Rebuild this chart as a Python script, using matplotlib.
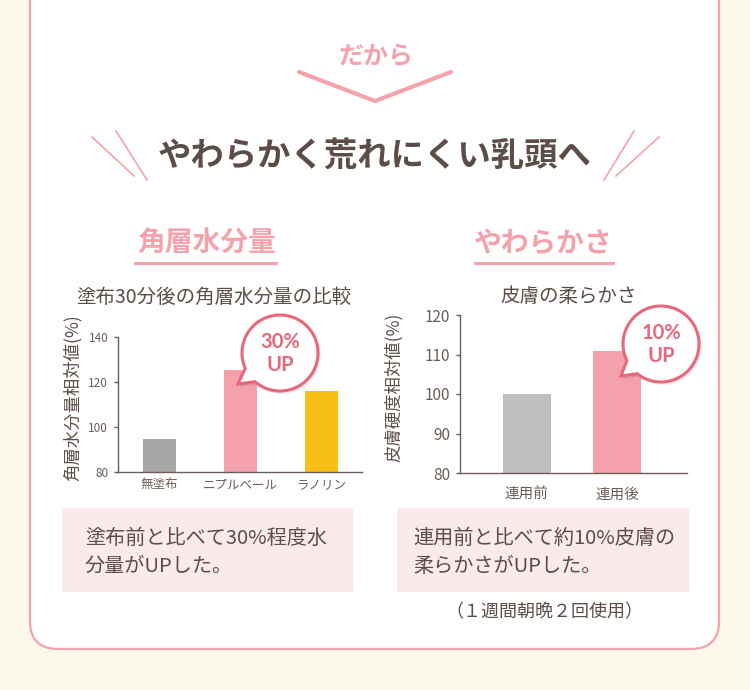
"""
やわらかく荒れにくい乳頭へ — two small comparison bar charts on a rounded card.
"""

import numpy as np
import matplotlib
matplotlib.use("Agg")
import matplotlib.pyplot as plt
from matplotlib.patches import FancyBboxPatch, Rectangle, Polygon

plt.rcParams['font.family'] = ['Noto Sans CJK JP', 'DejaVu Sans']

# ---- data -------------------------------------------------------------
left_labels = ['無塗布', 'ニプルベール', 'ラノリン']
left_values = [94.5, 125.5, 116.0]
left_colors = ['#A6A6A6', '#F5A1AB', '#F8BF14']
left_ticks = [80, 100, 120, 140]

right_labels = ['連用前', '連用後']
right_values = [100.0, 111.0]
right_colors = ['#BFBFBF', '#F5A1AB']
right_ticks = [80, 90, 100, 110, 120]

W, H = 750, 690
CREAM = '#FDF8EC'
PINK = '#F4A3AD'
BUBBLE = '#E8677D'
TEXT = '#5C4D48'
AXIS = '#6B5E58'
BOX = '#FBE9EB'


def fig_rect(x0, y0, x1, y1):
    """pixel box (top-left origin) -> figure fraction rect"""
    return [x0 / W, 1 - y1 / H, (x1 - x0) / W, (y1 - y0) / H]


fig = plt.figure(figsize=(W / 100, H / 100), dpi=100, facecolor=CREAM)

# background layer in pixel coordinates
bg = fig.add_axes([0, 0, 1, 1], zorder=0)
bg.set_xlim(0, W)
bg.set_ylim(H, 0)
bg.axis('off')

bg.add_patch(FancyBboxPatch((30, -40), 689, 689,
                            boxstyle='round,pad=0,rounding_size=28',
                            facecolor='white', edgecolor=PINK, lw=1.6))

# header
bg.text(376, 57, 'だから', color=PINK, fontsize=18, fontweight='bold',
        ha='center', va='center')
bg.plot([299, 375, 451], [72, 101, 72], color=PINK, lw=3,
        solid_capstyle='round', solid_joinstyle='miter')
bg.text(375, 157, 'やわらかく荒れにくい乳頭へ', color=TEXT, fontsize=24,
        fontweight='bold', ha='center', va='center')
for (x0, y0, x1, y1) in [(92, 137, 134, 176), (116, 131, 147, 180),
                         (634, 131, 604, 180), (659, 137, 616, 176)]:
    bg.plot([x0, x1], [y0, y1], color=PINK, lw=1.2)

# section headings
for cx, label, (u0, u1) in [(207, '角層水分量', (135, 276)),
                            (543, 'やわらかさ', (475, 613))]:
    bg.text(cx, 244, label, color=PINK, fontsize=20, fontweight='bold',
            ha='center', va='center')
    bg.plot([u0, u1], [263, 263], color=PINK, lw=2.2)

bg.text(214, 297, '塗布30分後の角層水分量の比較', color=TEXT, fontsize=14,
        ha='center', va='center')
bg.text(569, 296, '皮膚の柔らかさ', color=TEXT, fontsize=14,
        ha='center', va='center')

# explanation boxes
bg.add_patch(Rectangle((62, 508), 291, 84, facecolor=BOX, edgecolor='none'))
bg.add_patch(Rectangle((397, 508), 292, 84, facecolor=BOX, edgecolor='none'))
bg.text(85, 538, '塗布前と比べて30%程度水', color=TEXT, fontsize=14.5,
        ha='left', va='center')
bg.text(85, 566, '分量がUPした。', color=TEXT, fontsize=14.5,
        ha='left', va='center')
bg.text(413, 538, '連用前と比べて約10%皮膚の', color=TEXT, fontsize=14.5,
        ha='left', va='center')
bg.text(413, 566, '柔らかさがUPした。', color=TEXT, fontsize=14.5,
        ha='left', va='center')
bg.text(544, 612, '（１週間朝晩２回使用）', color=TEXT, fontsize=13,
        ha='center', va='center')


def style_axes(ax, ticks, tick_fs, label_fs):
    ax.set_facecolor('none')
    for s in ('top', 'right'):
        ax.spines[s].set_visible(False)
    for s in ('left', 'bottom'):
        ax.spines[s].set_color(AXIS)
        ax.spines[s].set_linewidth(1.0)
    ax.set_yticks(ticks)
    ax.tick_params(axis='y', colors=AXIS, labelsize=tick_fs, length=3,
                   width=1, pad=4)
    ax.tick_params(axis='x', colors=AXIS, labelsize=label_fs, length=0,
                   pad=5)


# left chart
axL = fig.add_axes(fig_rect(118, 337, 362, 472), zorder=2)
xl = np.arange(len(left_values))
axL.bar(xl, left_values, width=0.41, color=left_colors)
axL.set_ylim(80, 140)
axL.set_xlim(-0.51, 2.5)
axL.set_xticks(xl, left_labels)
style_axes(axL, left_ticks, 8.5, 9)
axL.set_ylabel('角層水分量相対値(%)', color=TEXT, fontsize=12.5)
axL.yaxis.set_label_coords(-0.15, 0.548)

# right chart
axR = fig.add_axes(fig_rect(460, 315, 687, 473), zorder=2)
xr = np.arange(len(right_values))
axR.bar(xr, right_values, width=0.53, color=right_colors)
axR.set_ylim(80, 120)
axR.set_xlim(-0.74, 1.77)
axR.set_xticks(xr, right_labels)
style_axes(axR, right_ticks, 11, 10.5)
axR.tick_params(axis='x', pad=11)
axR.set_ylabel('皮膚硬度相対値(%)', color=TEXT, fontsize=12.5)
axR.yaxis.set_label_coords(-0.25, 0.544)

# foreground layer for speech bubbles
fg = fig.add_axes([0, 0, 1, 1], zorder=5)
fg.set_xlim(0, W)
fg.set_ylim(H, 0)
fg.axis('off')
fg.patch.set_alpha(0)


def bubble(ax, cx, cy, r, tip, gap, text_lines):
    tip_ang = np.arctan2(tip[1] - cy, tip[0] - cx)
    t = np.linspace(tip_ang + gap, tip_ang - gap + 2 * np.pi, 120)
    pts = np.column_stack([cx + r * np.cos(t), cy + r * np.sin(t)])
    pts = np.vstack([pts, tip])
    ax.add_patch(Polygon(pts + [2.5, 3], closed=True, facecolor='#000000',
                         alpha=0.08, edgecolor='none'))
    ax.add_patch(Polygon(pts, closed=True, facecolor='white',
                         edgecolor=BUBBLE, lw=2.2, joinstyle='miter'))
    for (dy, s) in zip((-11, 12), text_lines):
        ax.text(cx, cy + dy, s, color=BUBBLE, fontsize=14.5,
                fontweight='bold', ha='center', va='center',
                family=['Lato', 'DejaVu Sans'])


bubble(fg, 280, 353, 38, (238, 384), 0.22, ['30%', 'UP'])
bubble(fg, 661, 344, 38, (621, 376), 0.22, ['10%', 'UP'])

fig.savefig('out.png', dpi=100, facecolor=fig.get_facecolor())
